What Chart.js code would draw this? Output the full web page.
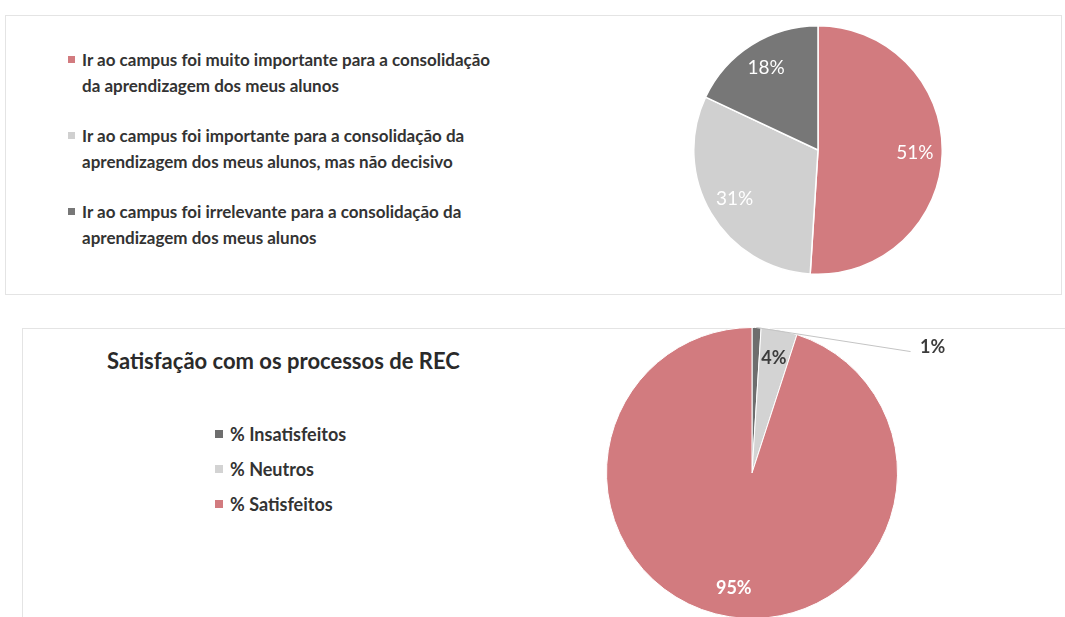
<!DOCTYPE html>
<html>
<head>
<meta charset="utf-8">
<script src="https://cdn.jsdelivr.net/npm/chart.js@4"></script>
<style>
    body {
        margin: 0;
        width: 1065px;
        height: 617px;
        overflow: hidden;
        background: #fff;
        font-family: Lato, "Open Sans", sans-serif;
        color: #333;
    }
    .painel {
        position: absolute;
        border: 1px solid #e4e4e4;
    }
    canvas {
        position: absolute;
    }
    .legenda {
        position: absolute;
        margin: 0;
        padding: 0;
        list-style: none;
        font-weight: bold;
    }
    .legenda li {
        position: relative;
    }
    .legenda li span {
        position: absolute;
        left: 0;
    }
    #legenda1 {
        left: 68px;
        top: 47px;
        width: 432px;
        font-size: 17px;
        line-height: 26px;
    }
    #legenda1 li {
        padding-left: 14px;
        margin-bottom: 24px;
    }
    #legenda1 li span {
        top: 9px;
        width: 7px;
        height: 7px;
    }
    #titulo2 {
        position: absolute;
        left: 107px;
        top: 346px;
        font-size: 22px;
        font-weight: bold;
        line-height: 30px;
        color: #2a2a2a;
    }
    #legenda2 {
        left: 215px;
        top: 422px;
        font-size: 18px;
        line-height: 24px;
    }
    #legenda2 li {
        padding-left: 15px;
        margin-bottom: 11px;
    }
    #legenda2 li span {
        top: 8px;
        width: 8px;
        height: 8px;
    }
</style>
</head>
<body>
<div class="painel" style="left:5px;top:15px;width:1055px;height:278px"></div>
<div class="painel" style="left:22px;top:328px;width:1060px;height:300px"></div>

<ul id="legenda1" class="legenda"></ul>
<canvas id="grafico1" width="250" height="250" style="left:693px;top:25px"></canvas>

<div id="titulo2"></div>
<ul id="legenda2" class="legenda"></ul>
<canvas id="grafico2" width="360" height="292" style="left:606px;top:327px"></canvas>

<script>
const categorias1 = [
    "Ir ao campus foi muito importante para a consolidação da aprendizagem dos meus alunos",
    "Ir ao campus foi importante para a consolidação da aprendizagem dos meus alunos, mas não decisivo",
    "Ir ao campus foi irrelevante para a consolidação da aprendizagem dos meus alunos"
]
const valores1 = [51, 31, 18]
const cores1 = ["#d27b7f", "#d0d0d0", "#777777"]

const titulo2 = "Satisfação com os processos de REC"
const categorias2 = ["% Insatisfeitos", "% Neutros", "% Satisfeitos"]
const valores2 = [1, 4, 95]
const cores2 = ["#6e6e6e", "#d3d3d3", "#d27b7f"]

// legendas em HTML, ordem igual ao grafico
const montarLegenda = (id, nomes, cores) => {
    const ul = document.getElementById(id)
    nomes.forEach((nome, i) => {
        const li = document.createElement("li")
        const quadrado = document.createElement("span")
        quadrado.style.background = cores[i]
        li.appendChild(quadrado)
        li.appendChild(document.createTextNode(nome))
        ul.appendChild(li)
    })
}
montarLegenda("legenda1", categorias1, cores1)
montarLegenda("legenda2", categorias2, cores2)
document.getElementById("titulo2").textContent = titulo2

// rotulos de percentagem dentro das fatias (uma pode ir para fora com linha)
const rotulos = {
    id: 'rotulos',
    afterDatasetsDraw(chart, args, opts) {
        const ctx = chart.ctx
        const meta = chart.getDatasetMeta(0)
        const dados = chart.data.datasets[0].data
        ctx.save()
        ctx.font = opts.fonte
        ctx.textAlign = 'center'
        ctx.textBaseline = 'middle'
        meta.data.forEach((arco, i) => {
            const p = arco.getProps(['x', 'y', 'startAngle', 'endAngle', 'outerRadius'], true)
            const meio = (p.startAngle + p.endAngle) / 2
            const texto = dados[i] + '%'
            ctx.fillStyle = opts.cores[i]
            if (i === opts.fora) {
                const x0 = p.x + Math.cos(meio) * p.outerRadius
                const y0 = p.y + Math.sin(meio) * p.outerRadius
                ctx.strokeStyle = '#c4c4c4'
                ctx.lineWidth = 1
                ctx.beginPath()
                ctx.moveTo(x0, y0)
                ctx.lineTo(x0 + opts.foraDx - 22, y0 + opts.foraDy + 4)
                ctx.stroke()
                ctx.fillText(texto, x0 + opts.foraDx, y0 + opts.foraDy)
            } else {
                const r = p.outerRadius * opts.distancia
                ctx.fillText(texto, p.x + Math.cos(meio) * r, p.y + Math.sin(meio) * r)
            }
        })
        ctx.restore()
    }
}

let grafico1 = new Chart(document.getElementById("grafico1"), {
    type: 'pie',
    data: {
        labels: categorias1,
        datasets: [{
            data: valores1,
            backgroundColor: cores1,
            borderColor: '#ffffff',
            borderWidth: 1.5
        }]
    },
    options: {
        responsive: false,
        animation: false,
        plugins: {
            legend: { display: false },
            tooltip: { enabled: false },
            rotulos: {
                fonte: '19px Lato',
                cores: ['#ffffff', '#ffffff', '#ffffff'],
                distancia: 0.78,
                fora: -1
            }
        }
    },
    plugins: [rotulos]
})

let grafico2 = new Chart(document.getElementById("grafico2"), {
    type: 'pie',
    data: {
        labels: categorias2,
        datasets: [{
            data: valores2,
            backgroundColor: cores2,
            borderColor: '#ffffff',
            borderWidth: 1
        }]
    },
    options: {
        responsive: false,
        animation: false,
        layout: { padding: { right: 68 } },
        plugins: {
            legend: { display: false },
            tooltip: { enabled: false },
            rotulos: {
                fonte: 'bold 18px Lato',
                cores: ['#3c3c3c', '#3c3c3c', '#ffffff'],
                distancia: 0.8,
                fora: 0,
                foraDx: 176,
                foraDy: 20
            }
        }
    },
    plugins: [rotulos]
})
</script>
</body>
</html>
